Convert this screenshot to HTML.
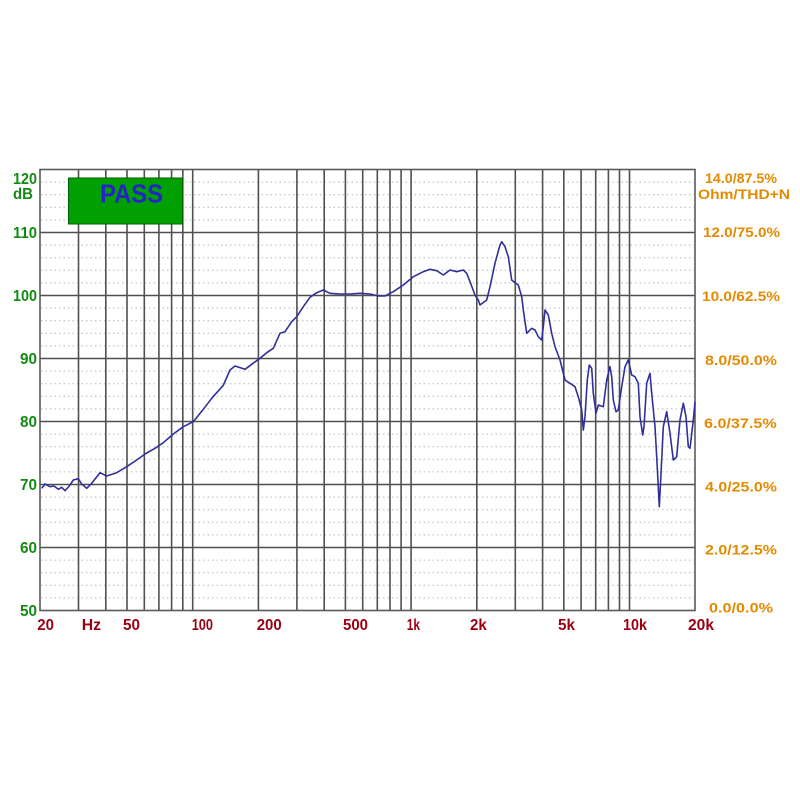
<!DOCTYPE html>
<html><head><meta charset="utf-8"><style>
html,body{margin:0;padding:0;background:#fff;}
svg{display:block;}
text{font-family:"Liberation Sans",Arial,sans-serif;font-weight:bold;}
</style></head><body>
<svg width="800" height="800" viewBox="0 0 800 800" xmlns="http://www.w3.org/2000/svg">
<rect x="0" y="0" width="800" height="800" fill="#fff"/>
<!-- minor horizontal dotted lines every 2 dB -->
<g stroke="#b8b8b8" stroke-width="1" stroke-dasharray="1.5,3">
<line x1="41" y1="182.1" x2="694" y2="182.1"/><line x1="41" y1="194.7" x2="694" y2="194.7"/><line x1="41" y1="207.3" x2="694" y2="207.3"/><line x1="41" y1="219.9" x2="694" y2="219.9"/>
<line x1="41" y1="245.1" x2="694" y2="245.1"/><line x1="41" y1="257.7" x2="694" y2="257.7"/><line x1="41" y1="270.3" x2="694" y2="270.3"/><line x1="41" y1="282.9" x2="694" y2="282.9"/>
<line x1="41" y1="308.1" x2="694" y2="308.1"/><line x1="41" y1="320.7" x2="694" y2="320.7"/><line x1="41" y1="333.3" x2="694" y2="333.3"/><line x1="41" y1="345.9" x2="694" y2="345.9"/>
<line x1="41" y1="371.1" x2="694" y2="371.1"/><line x1="41" y1="383.7" x2="694" y2="383.7"/><line x1="41" y1="396.3" x2="694" y2="396.3"/><line x1="41" y1="408.9" x2="694" y2="408.9"/>
<line x1="41" y1="434.1" x2="694" y2="434.1"/><line x1="41" y1="446.7" x2="694" y2="446.7"/><line x1="41" y1="459.3" x2="694" y2="459.3"/><line x1="41" y1="471.9" x2="694" y2="471.9"/>
<line x1="41" y1="497.1" x2="694" y2="497.1"/><line x1="41" y1="509.7" x2="694" y2="509.7"/><line x1="41" y1="522.3" x2="694" y2="522.3"/><line x1="41" y1="534.9" x2="694" y2="534.9"/>
<line x1="41" y1="560.1" x2="694" y2="560.1"/><line x1="41" y1="572.7" x2="694" y2="572.7"/><line x1="41" y1="585.3" x2="694" y2="585.3"/><line x1="41" y1="597.9" x2="694" y2="597.9"/>
</g>
<!-- vertical grid lines -->
<g stroke="#505050" stroke-width="1.6">
<line x1="78.5" y1="169.5" x2="78.5" y2="610.5"/><line x1="105.8" y1="169.5" x2="105.8" y2="610.5"/><line x1="127" y1="169.5" x2="127" y2="610.5"/><line x1="144.3" y1="169.5" x2="144.3" y2="610.5"/><line x1="158.9" y1="169.5" x2="158.9" y2="610.5"/><line x1="171.6" y1="169.5" x2="171.6" y2="610.5"/><line x1="182.8" y1="169.5" x2="182.8" y2="610.5"/><line x1="192.7" y1="169.5" x2="192.7" y2="610.5"/>
<line x1="258.4" y1="169.5" x2="258.4" y2="610.5"/><line x1="296.9" y1="169.5" x2="296.9" y2="610.5"/><line x1="324.2" y1="169.5" x2="324.2" y2="610.5"/><line x1="345.4" y1="169.5" x2="345.4" y2="610.5"/><line x1="362.7" y1="169.5" x2="362.7" y2="610.5"/><line x1="377.3" y1="169.5" x2="377.3" y2="610.5"/><line x1="390" y1="169.5" x2="390" y2="610.5"/><line x1="401.1" y1="169.5" x2="401.1" y2="610.5"/><line x1="411.1" y1="169.5" x2="411.1" y2="610.5"/>
<line x1="476.8" y1="169.5" x2="476.8" y2="610.5"/><line x1="515.3" y1="169.5" x2="515.3" y2="610.5"/><line x1="542.6" y1="169.5" x2="542.6" y2="610.5"/><line x1="563.8" y1="169.5" x2="563.8" y2="610.5"/><line x1="581.1" y1="169.5" x2="581.1" y2="610.5"/><line x1="595.7" y1="169.5" x2="595.7" y2="610.5"/><line x1="608.4" y1="169.5" x2="608.4" y2="610.5"/><line x1="619.5" y1="169.5" x2="619.5" y2="610.5"/><line x1="629.5" y1="169.5" x2="629.5" y2="610.5"/>
</g>
<!-- major horizontal lines -->
<g stroke="#505050" stroke-width="1.6">
<line x1="40" y1="232.5" x2="695" y2="232.5"/><line x1="40" y1="295.5" x2="695" y2="295.5"/><line x1="40" y1="358.5" x2="695" y2="358.5"/><line x1="40" y1="421.5" x2="695" y2="421.5"/><line x1="40" y1="484.5" x2="695" y2="484.5"/><line x1="40" y1="547.5" x2="695" y2="547.5"/>
</g>
<rect x="40" y="169.5" width="655" height="441" fill="none" stroke="#5a5a5a" stroke-width="1.6"/>
<!-- PASS box -->
<rect x="68.5" y="178" width="114" height="46" fill="#00a000" stroke="#006000" stroke-width="1"/>
<text x="100" y="202.5" font-size="26" fill="#2424c8" textLength="63" lengthAdjust="spacingAndGlyphs">PASS</text>
<!-- curve -->
<polyline fill="none" stroke="#30309a" stroke-width="1.6" stroke-linejoin="round" points="41.7,488.3 45,484 50,486.7 54,486 58.3,489.3 61.7,487.3 65,490.7 69.3,486 73.3,480 78.3,478.7 81.7,484 86.7,488.3 91.7,483.3 100,472.7 106.7,476 116.7,472.7 126.7,466.7 136.7,460 145,454 155,448.3 163.3,442.7 173.3,434 183.3,426.7 193.3,421.7 203.3,409.3 211.7,398.3 223.3,385.3 230,370 235,366 245,369.3 251.7,364.3 260,358.3 266.7,352.7 273.3,348.3 280,333.3 285,331.7 291.7,321.7 296.7,316.7 303.3,306.7 310,297.3 316.7,292.7 323.3,290 330,293.3 340,294 350,294 360,293.3 370,294 378.3,296 385,296 393.3,291.7 403.3,285 413.3,276.7 423.3,271.7 430,269.3 436.7,270.7 443.3,275 450,270 456.7,271.7 463.3,270 466.7,273.3 470,281.7 475,295 478.3,300 480,305 486.7,300 490,286.7 495,263.3 500,245 501.7,241.7 505,246.7 508.3,256.7 511.7,280 515,282.7 518.3,285 521.7,296.7 523.3,310 526.7,333.3 531.7,328.3 535,330 538.3,336.7 541.7,340 543.3,326.7 545,310 548.3,315 551.7,333.3 555,346.7 560,360 565,380 570,383.3 575,386.7 578.3,396.7 581.7,410 583.3,430 585,416.7 587.3,380 589.3,365 591.7,368.3 593.3,393.3 596,413.3 598.3,405 603.3,406.7 606.7,380 610,366.7 611.7,376.7 613.3,400 616,411.7 618.3,410 621.7,386.7 625,366.7 628.3,360 631.7,375 635,376.7 638.3,383.3 640,416.7 642.7,435 644,426.7 646.7,383.3 650,373.3 651.7,393.3 655,426.7 656.7,456.7 659.3,506.7 660.7,480 663.3,426.7 666.7,411.7 670,433.3 673.3,460 676.7,456.7 680,420 683.3,403.3 686,416.7 688.3,446.7 690,448.3 693.3,420 695,402"/>
<!-- left labels -->
<g fill="#138a13" font-size="16">
<text x="13" y="184" textLength="24" lengthAdjust="spacingAndGlyphs">120</text>
<text x="13" y="199" textLength="20" lengthAdjust="spacingAndGlyphs">dB</text>
<text x="13" y="238" textLength="24" lengthAdjust="spacingAndGlyphs">110</text>
<text x="13" y="301" textLength="24" lengthAdjust="spacingAndGlyphs">100</text>
<text x="20" y="364" textLength="17" lengthAdjust="spacingAndGlyphs">90</text>
<text x="20" y="427" textLength="17" lengthAdjust="spacingAndGlyphs">80</text>
<text x="20" y="490" textLength="17" lengthAdjust="spacingAndGlyphs">70</text>
<text x="20" y="553" textLength="17" lengthAdjust="spacingAndGlyphs">60</text>
<text x="20" y="616" textLength="17" lengthAdjust="spacingAndGlyphs">50</text>
</g>
<!-- bottom labels -->
<g fill="#9a0012" font-size="16">
<text x="37.3" y="630" textLength="16.7" lengthAdjust="spacingAndGlyphs">20</text>
<text x="81.7" y="630" textLength="19.3" lengthAdjust="spacingAndGlyphs">Hz</text>
<text x="123" y="630" textLength="17" lengthAdjust="spacingAndGlyphs">50</text>
<text x="191.7" y="630" textLength="21.3" lengthAdjust="spacingAndGlyphs">100</text>
<text x="256.7" y="630" textLength="25" lengthAdjust="spacingAndGlyphs">200</text>
<text x="343" y="630" textLength="25" lengthAdjust="spacingAndGlyphs">500</text>
<text x="406.7" y="630" textLength="13.3" lengthAdjust="spacingAndGlyphs">1k</text>
<text x="470" y="630" textLength="16.7" lengthAdjust="spacingAndGlyphs">2k</text>
<text x="558" y="630" textLength="17" lengthAdjust="spacingAndGlyphs">5k</text>
<text x="623" y="630" textLength="24" lengthAdjust="spacingAndGlyphs">10k</text>
<text x="688" y="630" textLength="26" lengthAdjust="spacingAndGlyphs">20k</text>
</g>
<!-- right labels -->
<g fill="#e48a00" font-size="14">
<text x="705" y="183" textLength="72" lengthAdjust="spacingAndGlyphs">14.0/87.5%</text>
<text x="698" y="199" textLength="92" lengthAdjust="spacingAndGlyphs">Ohm/THD+N</text>
<text x="703" y="237" textLength="77" lengthAdjust="spacingAndGlyphs">12.0/75.0%</text>
<text x="702" y="301" textLength="78" lengthAdjust="spacingAndGlyphs">10.0/62.5%</text>
<text x="705" y="365" textLength="72" lengthAdjust="spacingAndGlyphs">8.0/50.0%</text>
<text x="704" y="428" textLength="72.7" lengthAdjust="spacingAndGlyphs">6.0/37.5%</text>
<text x="705" y="491.5" textLength="72" lengthAdjust="spacingAndGlyphs">4.0/25.0%</text>
<text x="705" y="554.5" textLength="72" lengthAdjust="spacingAndGlyphs">2.0/12.5%</text>
<text x="709" y="612.5" textLength="64" lengthAdjust="spacingAndGlyphs">0.0/0.0%</text>
</g>
</svg>
</body></html>
